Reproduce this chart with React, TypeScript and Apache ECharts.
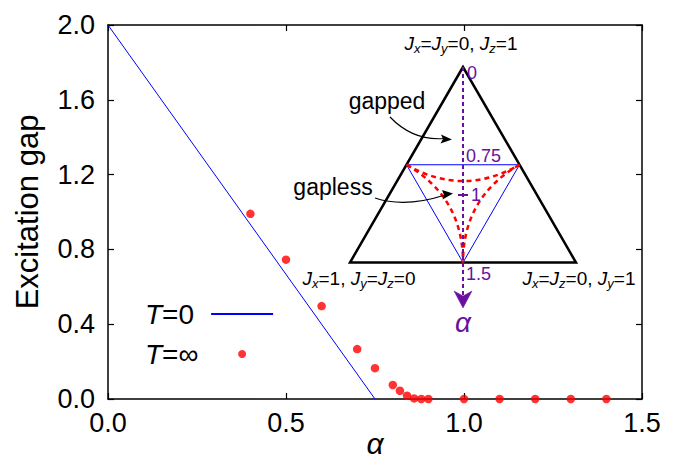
import React, { useEffect, useRef } from "react";
import * as echarts from "echarts";

// ---- data ----
const xTicks = ["0.0", "0.5", "1.0", "1.5"];
const yTicks = ["0.0", "0.4", "0.8", "1.2", "1.6", "2.0"];
const alphaT0 = [0, 0.75];
const gapT0 = [2.0, 0.0];
const alphaTinf = [0.4, 0.5, 0.6, 0.7, 0.75, 0.8, 0.82, 0.84, 0.86, 0.88, 0.9, 1.0, 1.1, 1.2, 1.3, 1.4];
const gapTinf = [0.99, 0.745, 0.497, 0.267, 0.165, 0.075, 0.044, 0.018, 0.003, 0, 0, 0, 0, 0, 0, 0];
const insetTicks = ["0", "0.75", "1", "1.5"];

const FONT = "'Liberation Sans', Arial, Helvetica, sans-serif";
const PURPLE = "#6b0f9e";

export default function App() {
  const ref = useRef<HTMLDivElement>(null);
  useEffect(() => {
    if (!ref.current) return;
    const chart = echarts.init(ref.current, undefined, { renderer: "svg" });

    // inset geometry (local units, apex at origin)
    const H = 195.5;
    const W = 113;
    const cy = (H / 2 + H / 2 + H) / 3;
    const L = [-W / 2, H / 2];
    const R = [W / 2, H / 2];
    const B = [0, H];
    const redCurve = (p: number[], q: number[]) => ({
      type: "bezierCurve",
      shape: { x1: p[0], y1: p[1], x2: q[0], y2: q[1], cpx1: 0, cpy1: cy },
      style: { stroke: "#ff0000", lineWidth: 2.5, fill: null, lineDash: [5, 4] },
    });
    const rich = {
      j: { fontFamily: FONT, fontSize: 19, fontStyle: "italic", fill: "#000" },
      s: { fontFamily: FONT, fontSize: 13, fontStyle: "italic", fill: "#000", padding: [11, 0, 0, 0] },
      n: { fontFamily: FONT, fontSize: 19, fill: "#000" },
    };
    const purpleText = (x: number, y: number, text: string) => ({
      type: "text",
      x,
      y,
      style: { text, fontFamily: FONT, fontSize: 18, fill: PURPLE, verticalAlign: "middle" },
    });

    const inset = {
      type: "group",
      x: 463,
      y: 67,
      children: [
        {
          type: "polygon",
          shape: { points: [[0, 0], [-W, H], [W, H]] },
          style: { fill: null, stroke: "#000", lineWidth: 2.5, lineJoin: "miter" },
        },
        {
          type: "polygon",
          shape: { points: [L, R, B] },
          style: { fill: null, stroke: "#0000ff", lineWidth: 1 },
        },
        redCurve(L, R),
        redCurve(L, B),
        redCurve(R, B),
        {
          type: "line",
          shape: { x1: 0, y1: 0, x2: 0, y2: 228 },
          style: { stroke: PURPLE, lineWidth: 2, lineDash: [4, 3] },
        },
        {
          type: "polygon",
          shape: { points: [[-9, 224], [0, 229], [9, 224], [0, 241]] },
          style: { fill: PURPLE, stroke: PURPLE, lineWidth: 0.5 },
        },
        {
          type: "line",
          shape: { x1: -5, y1: 128, x2: 5, y2: 128 },
          style: { stroke: PURPLE, lineWidth: 2 },
        },
        purpleText(4, 6, insetTicks[0]),
        purpleText(3, 89, insetTicks[1]),
        purpleText(8, 128, insetTicks[2]),
        purpleText(3, 207, insetTicks[3]),
        { type: "text", x: 0, y: 255, style: { text: "α", fontFamily: FONT, fontSize: 28, fontStyle: "italic", fill: PURPLE, align: "center", verticalAlign: "middle" } },
        {
          type: "text",
          x: -2,
          y: -24,
          style: { text: "{j|J}{s|x}{n|=}{j|J}{s|y}{n|=0, }{j|J}{s|z}{n|=1}", rich, align: "center", verticalAlign: "middle" },
        },
        {
          type: "text",
          x: -104,
          y: 211,
          style: { text: "{j|J}{s|x}{n|=1, }{j|J}{s|y}{n|=}{j|J}{s|z}{n|=0}", rich, align: "center", verticalAlign: "middle" },
        },
        {
          type: "text",
          x: 116,
          y: 211,
          style: { text: "{j|J}{s|x}{n|=}{j|J}{s|z}{n|=0, }{j|J}{s|y}{n|=1}", rich, align: "center", verticalAlign: "middle" },
        },
      ],
    };

    const annotations = [
      { type: "text", x: 387, y: 101, style: { text: "gapped", fontFamily: FONT, fontSize: 23, fill: "#000", align: "center", verticalAlign: "middle" } },
      { type: "text", x: 333, y: 187, style: { text: "gapless", fontFamily: FONT, fontSize: 23, fill: "#000", align: "center", verticalAlign: "middle" } },
      {
        type: "bezierCurve",
        shape: { x1: 390, y1: 117, x2: 444, y2: 138.5, cpx1: 413, cpy1: 141 },
        style: { stroke: "#000", lineWidth: 1.2, fill: null },
      },
      {
        type: "polygon",
        shape: { points: [[452, 139.5], [441, 134.5], [443, 139], [440.5, 143.5]] },
        style: { fill: "#000" },
      },
      {
        type: "bezierCurve",
        shape: { x1: 375, y1: 198, x2: 445, y2: 195, cpx1: 405, cpy1: 208 },
        style: { stroke: "#000", lineWidth: 1.2, fill: null },
      },
      {
        type: "polygon",
        shape: { points: [[453, 193.5], [442, 190], [444, 195], [442.5, 199.5]] },
        style: { fill: "#000" },
      },
    ];

    const axisCommon = {
      type: "value",
      axisLine: { show: true, onZero: false, lineStyle: { color: "#000", width: 1.5 } },
      axisTick: { show: true, inside: true, length: 6, lineStyle: { color: "#000", width: 1.2 } },
      splitLine: { show: false },
    };

    chart.setOption({
      animation: false,
      backgroundColor: "#fff",
      grid: { left: 108, right: 36, top: 25, bottom: 61, containLabel: false, outerBoundsMode: "none" },
      legend: {
        show: true,
        orient: "vertical",
        left: 140,
        top: 295,
        align: "right",
        itemWidth: 62,
        itemHeight: 8,
        itemGap: 12,
        selectedMode: false,
        data: ["T=0", "T=∞"],
        formatter: (name: string) => `{i|T}{b|${name.slice(1)}}`,
        textStyle: {
          lineHeight: 28,
          rich: {
            i: { fontFamily: FONT, fontSize: 28, fontStyle: "italic", color: "#000", align: "left" },
            b: { fontFamily: FONT, fontSize: 28, color: "#000", width: 44, align: "left" },
          },
        },
      },
      xAxis: [
        {
          ...axisCommon,
          min: 0,
          max: 1.5,
          interval: 0.5,
          name: "α",
          nameLocation: "middle",
          nameGap: 32,
          nameMoveOverlap: false,
          nameTextStyle: { fontFamily: FONT, fontSize: 30, lineHeight: 24, fontStyle: "italic", color: "#000" },
          axisLabel: {
            margin: 10,
            fontFamily: FONT,
            fontSize: 27,
            color: "#000",
            formatter: (v: number) => xTicks[Math.round(v / 0.5)] ?? v.toFixed(1),
          },
        },
        {
          ...axisCommon,
          position: "top",
          min: 0,
          max: 1.5,
          interval: 0.5,
          axisLabel: { show: false },
        },
      ],
      yAxis: [
        {
          ...axisCommon,
          min: 0,
          max: 2,
          interval: 0.4,
          name: "Excitation gap",
          nameLocation: "middle",
          nameGap: 65,
          nameMoveOverlap: false,
          nameRotate: 90,
          nameTextStyle: { fontFamily: FONT, fontSize: 31, color: "#000" },
          axisLabel: {
            margin: 13,
            fontFamily: FONT,
            fontSize: 27,
            color: "#000",
            formatter: (v: number) => yTicks[Math.round(v / 0.4)] ?? v.toFixed(1),
          },
        },
        {
          ...axisCommon,
          position: "right",
          min: 0,
          max: 2,
          interval: 0.4,
          axisLabel: { show: false },
        },
      ],
      series: [
        {
          name: "T=0",
          type: "line",
          data: alphaT0.map((a, i) => [a, gapT0[i]]),
          symbol: "none",
          lineStyle: { color: "#0000ff", width: 1 },
          itemStyle: { color: "rgba(0,0,0,0)", borderColor: "rgba(0,0,0,0)", borderWidth: 0 },
          z: 3,
        },
        {
          name: "T=∞",
          type: "scatter",
          data: alphaTinf.map((a, i) => [a, gapTinf[i]]),
          symbol: "circle",
          symbolSize: 8.5,
          itemStyle: { color: "#ff0000" },
          clip: false,
          z: 4,
        },
      ],
      graphic: [inset, ...annotations],
    });
    return () => chart.dispose();
  }, []);
  return (
    <div
      ref={ref}
      style={{ position: "fixed", left: 0, top: 0, width: 678, height: 460 }}
    />
  );
}
